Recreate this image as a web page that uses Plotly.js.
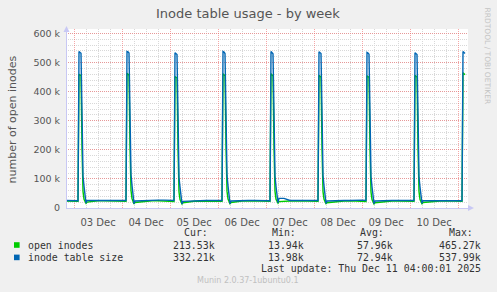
<!DOCTYPE html>
<html>
<head>
<meta charset="utf-8">
<script src="https://cdn.plot.ly/plotly-3.0.1.min.js"></script>
<style>
  html, body { margin: 0; padding: 0; background: #F0F0F0; }
  #chart { width: 497px; height: 292px; }
</style>
</head>
<body>
<div id="chart"></div>
<script>
// ---------------- DATA (values in thousands) ----------------
const startTimes = ['2025-12-02 20:00', '2025-12-02 22:00'];
const startBlue  = [26, 26];
const startGreen = [24, 24];

const days = ['2025-12-03', '2025-12-04', '2025-12-05', '2025-12-06',
              '2025-12-07', '2025-12-08', '2025-12-09', '2025-12-10'];
const sampleTimes = ['00:00', '02:00', '02:30', '03:00', '03:30', '04:00', '04:30', '05:00',
                     '05:30', '06:00', '06:30', '09:00', '12:00', '15:00', '18:00', '21:00'];

// inode table size (blue), one row per day
const tableSize = [
  [26, 25, 538, 536, 532, 330, 110, 75, 40, 17, 26, 26, 25, 26, 26, 26],
  [26, 26, 538, 537, 533, 335, 115, 78, 42, 15, 24, 25, 26, 26, 27, 27],
  [27, 26, 534, 532, 528, 320, 105, 72, 38, 13.98, 23, 24, 24, 25, 26, 26],
  [26, 26, 538, 536, 531, 330, 112, 76, 40, 15, 24, 25, 25, 26, 26, 26],
  [26, 25, 538, 535, 530, 328, 110, 74, 38, 18, 33, 33, 26, 26, 26, 26],
  [26, 26, 537, 535, 531, 332, 112, 76, 40, 16, 24, 25, 26, 26, 26, 27],
  [27, 26, 535, 533, 529, 325, 108, 73, 39, 15, 24, 25, 26, 26, 26, 26],
  [26, 26, 534, 532, 528, 322, 106, 72, 38, 16, 25, 25, 26, 26, 27, 26]
];
// open inodes (green), one row per day
const openInodes = [
  [24, 23, 460, 458, 455, 210, 57, 30, 20, 16, 20, 23, 25, 25, 25, 24],
  [24, 23, 463, 460, 457, 215, 60, 32, 21, 14, 19, 21, 24, 25, 25, 24],
  [24, 22, 452, 450, 447, 205, 55, 29, 19, 13.94, 18, 21, 23, 24, 24, 24],
  [24, 23, 462, 459, 455, 212, 58, 31, 20, 15, 19, 22, 24, 25, 25, 24],
  [24, 23, 462, 458, 454, 210, 57, 30, 20, 17, 22, 24, 24, 25, 25, 24],
  [24, 23, 456, 454, 450, 208, 56, 30, 19, 15, 18, 20, 23, 24, 25, 24],
  [24, 22, 455, 452, 449, 206, 55, 29, 19, 14, 18, 20, 22, 24, 24, 24],
  [24, 23, 456, 454, 450, 207, 56, 29, 20, 15, 19, 21, 23, 24, 25, 24]
];

const lastDay = '2025-12-11';
const lastTimes = ['00:00', '02:00', '02:30', '03:00', '03:30'];
const lastBlue  = [26, 25, 537.99, 535, 531];
const lastGreen = [24, 23, 465.27, 462, 458];

const yTickVals = [0, 100, 200, 300, 400, 500, 600];
const yTickText = ['0', '100 k', '200 k', '300 k', '400 k', '500 k', '600 k'];

const seriesNames = ['open inodes', 'inode table size'];
const seriesColors = ['#00CC00', '#0066B3'];
const statCur = ['213.53k', '332.21k'];
const statMin = ['13.94k', '13.98k'];
const statAvg = ['57.96k', '72.94k'];
const statMax = ['465.27k', '537.99k'];

// ---------------- BUILD SERIES ----------------
const xs = [], yBlue = [], yGreen = [];
startTimes.forEach((t, i) => { xs.push(t); yBlue.push(startBlue[i]); yGreen.push(startGreen[i]); });
days.forEach((d, di) => {
  sampleTimes.forEach((t, ti) => {
    xs.push(d + ' ' + t);
    yBlue.push(tableSize[di][ti]);
    yGreen.push(openInodes[di][ti]);
  });
});
lastTimes.forEach((t, i) => { xs.push(lastDay + ' ' + t); yBlue.push(lastBlue[i]); yGreen.push(lastGreen[i]); });

// ---------------- LAYOUT HELPERS ----------------
const W = 497, H = 292;
const M = { l: 66, r: 29, t: 29, b: 84 };
const plotW = W - M.l - M.r, plotH = H - M.t - M.b;
const px = x => (x - M.l) / plotW;
const py = y => (H - M.b - y) / plotH;

const SANS = 'DejaVu Sans, sans-serif';
const MONO = 'DejaVu Sans Mono, monospace';
const LEG = '#333333';

function ann(text, x, y, opts) {
  return Object.assign({
    xref: 'paper', yref: 'paper', x: px(x), y: py(y), text: text,
    showarrow: false, xanchor: 'left', yanchor: 'middle',
    font: { family: MONO, size: 9.9, color: LEG }
  }, opts || {});
}

const annotations = [
  ann('Inode table usage - by week', 248, 13, { xanchor: 'center', font: { family: SANS, size: 13, color: '#555555' } }),
  ann('number of open inodes', 11.5, 120, { xanchor: 'center', textangle: -90, font: { family: SANS, size: 11, color: '#555555' } }),
  ann('RRDTOOL / TOBI OETIKER', 487.5, 56, { xanchor: 'center', textangle: 90, font: { family: SANS, size: 7.5, color: '#C4C4C4' } }),
  ann('Cur:', 182, 232.5),
  ann('Min:', 270, 232.5),
  ann('Avg:', 358, 232.5),
  ann('Max:', 446.5, 232.5),
  ann('Last update: Thu Dec 11 04:00:01 2025', 482.5, 268.7, { xanchor: 'right' }),
  ann('Munin 2.0.37-1ubuntu0.1', 247.5, 280.8, { xanchor: 'center', font: { family: SANS, size: 8, color: '#C0C0C0' } })
];
const rowY = [245, 257.3];
seriesNames.forEach((n, i) => {
  annotations.push(ann(n, 26, rowY[i]));
  annotations.push(ann(statCur[i], 217, rowY[i], { xanchor: 'right' }));
  annotations.push(ann(statMin[i], 306, rowY[i], { xanchor: 'right' }));
  annotations.push(ann(statAvg[i], 394.5, rowY[i], { xanchor: 'right' }));
  annotations.push(ann(statMax[i], 482.5, rowY[i], { xanchor: 'right' }));
});

const AXC = '#C8C8F4';
const shapes = [
  { type: 'rect', xref: 'paper', yref: 'paper', x0: px(14), x1: px(19.6), y0: py(247.8), y1: py(242.2),
    fillcolor: seriesColors[0], line: { width: 0 } },
  { type: 'rect', xref: 'paper', yref: 'paper', x0: px(14), x1: px(19.6), y0: py(260.2), y1: py(254.6),
    fillcolor: seriesColors[1], line: { width: 0 } },
  // axis arrowheads
  { type: 'path', xref: 'paper', yref: 'paper',
    path: `M ${px(63.5)} ${py(32)} L ${px(69.5)} ${py(32)} L ${px(66.5)} ${py(26)} Z`,
    fillcolor: AXC, line: { width: 0 } },
  { type: 'path', xref: 'paper', yref: 'paper',
    path: `M ${px(468)} ${py(205)} L ${px(468)} ${py(211)} L ${px(474)} ${py(208)} Z`,
    fillcolor: AXC, line: { width: 0 } },
  { type: 'line', xref: 'paper', yref: 'paper', x0: px(66.5), x1: px(66.5), y0: py(208), y1: py(29),
    line: { color: AXC, width: 1 } }
];

const MAJ = 'rgba(240,110,110,0.6)';
const MIN = '#D8D8D8';

const traces = [
  { x: xs, y: yGreen, type: 'scatter', mode: 'lines', name: seriesNames[0],
    line: { color: seriesColors[0], width: 1.4 }, hoverinfo: 'skip' },
  { x: xs, y: yBlue, type: 'scatter', mode: 'lines', name: seriesNames[1],
    line: { color: seriesColors[1], width: 1.4 }, hoverinfo: 'skip' }
];

const layout = {
  width: W, height: H,
  margin: M,
  paper_bgcolor: '#F0F0F0',
  plot_bgcolor: '#FFFFFF',
  showlegend: false,
  annotations: annotations,
  shapes: shapes,
  xaxis: {
    type: 'date',
    range: ['2025-12-02 20:00', '2025-12-11 05:00'],
    tick0: '2025-12-03', dtick: 86400000,
    tickformat: '%d %b', ticklabelmode: 'period',
    ticks: 'outside', ticklen: 5, tickcolor: 'rgba(0,0,0,0)',
    showgrid: true, gridcolor: MAJ, griddash: '1px,1px', gridwidth: 1,
    minor: { dtick: 21600000, tick0: '2025-12-03', showgrid: true, gridcolor: MIN, griddash: '1px,1px', ticks: '' },
    showline: true, linecolor: AXC, linewidth: 1,
    zeroline: false, fixedrange: true,
    tickfont: { family: SANS, size: 10, color: '#555555' }
  },
  yaxis: {
    range: [0, 615.5],
    tickmode: 'array', tickvals: yTickVals, ticktext: yTickText,
    ticks: 'outside', ticklen: 3, tickcolor: 'rgba(0,0,0,0)',
    showgrid: true, gridcolor: MAJ, griddash: '1px,1px', gridwidth: 1,
    minor: { tickmode: 'linear', tick0: 0, dtick: 20, showgrid: true, gridcolor: MIN, griddash: '1px,1px', ticks: '' },
    showline: false, zeroline: false, fixedrange: true,
    tickfont: { family: SANS, size: 9.5, color: '#555555' }
  }
};

Plotly.newPlot('chart', traces, layout, { displayModeBar: false, staticPlot: true });
</script>
</body>
</html>
